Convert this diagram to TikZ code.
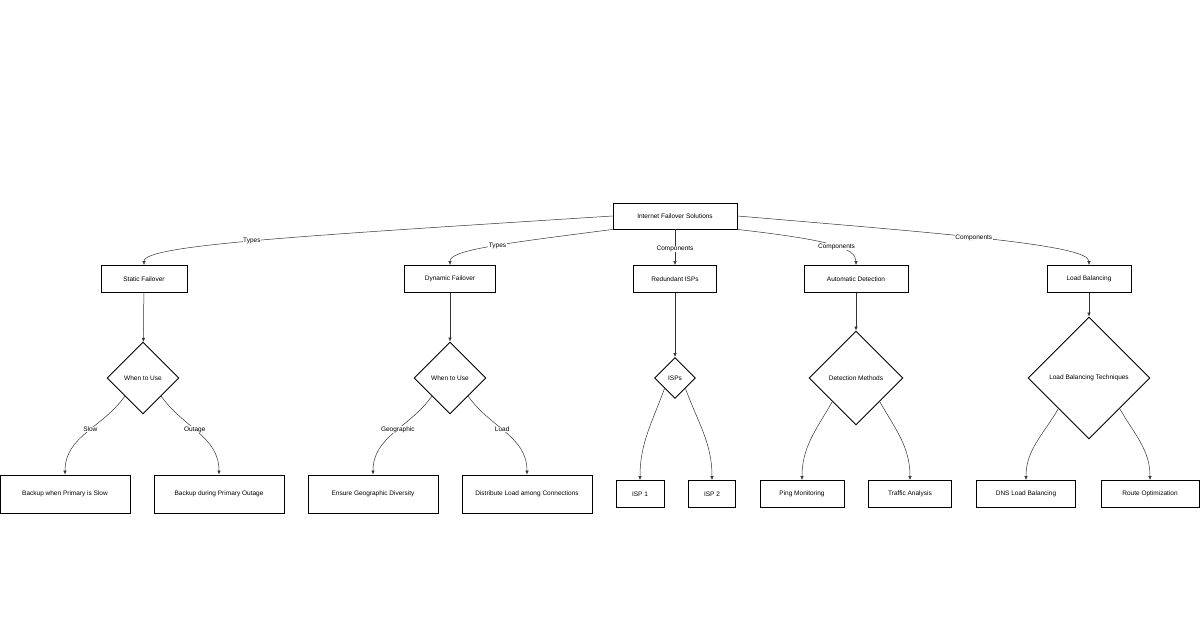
\documentclass[tikz,border=0pt]{standalone}
\usepackage{fontspec}
\setmainfont{Liberation Sans}
\usetikzlibrary{shapes.geometric, arrows.meta}

\begin{document}
\begin{tikzpicture}[x=1pt, y=-1pt, font=\fontsize{6.5}{8}\selectfont]
        \tikzset{box/.style = {draw, line width=0.9pt, inner sep=0pt, minimum height=27pt}}
        \tikzset{leaf/.style = {box, minimum height=38pt}}
        \tikzset{small/.style = {box, minimum height=27pt}}
        \tikzset{choice/.style = {draw, diamond, line width=0.9pt, inner sep=0pt, aspect=1}}
        \tikzset{link/.style = {draw=black!80, line width=0.5pt, -{Latex[length=4pt,width=3.5pt]}}}
        \tikzset{tag/.style = {fill=white, inner sep=0.5pt}}

        \useasboundingbox (0,0) rectangle (1200,628);

        \node[box, minimum width=124pt, minimum height=26pt] (root) at (675,216) {Internet Failover Solutions};

        \node[box, minimum width=86pt] (static) at (144,279) {Static Failover};
        \node[box, minimum width=91pt] (dynamic) at (450,279) {Dynamic Failover};
        \node[box, minimum width=83pt] (redundant) at (675,279) {Redundant ISPs};
        \node[box, minimum width=104pt] (detect) at (856,279) {Automatic Detection};
        \node[box, minimum width=84pt] (balance) at (1089,279) {Load Balancing};

        \node[choice, minimum width=72pt, minimum height=72pt] (swhen) at (143,378) {When to Use};
        \node[choice, minimum width=72pt, minimum height=72pt] (dwhen) at (450,378) {When to Use};
        \node[choice, minimum width=41pt, minimum height=41pt] (isps) at (675,378) {ISPs};
        \node[choice, minimum width=94pt, minimum height=94pt] (methods) at (856,378) {Detection Methods};
        \node[choice, minimum width=122pt, minimum height=122pt] (techniques) at (1089,378) {Load Balancing Techniques};

        \node[leaf, minimum width=130pt] (slow) at (65,494) {Backup when Primary is Slow};
        \node[leaf, minimum width=130pt] (outage) at (219,494) {Backup during Primary Outage};
        \node[leaf, minimum width=130pt] (geo) at (373,494) {Ensure Geographic Diversity};
        \node[leaf, minimum width=130pt] (load) at (527,494) {Distribute Load among Connections};
        \node[small, minimum width=48pt] (isp1) at (640,494) {ISP 1};
        \node[small, minimum width=47pt] (isp2) at (712,494) {ISP 2};
        \node[small, minimum width=84pt] (ping) at (802,494) {Ping Monitoring};
        \node[small, minimum width=83pt] (traffic) at (910,494) {Traffic Analysis};
        \node[small, minimum width=99pt] (dns) at (1026,494) {DNS Load Balancing};
        \node[small, minimum width=98pt] (route) at (1150,494) {Route Optimization};

        % first level
        \draw[link] (root.west) .. controls (300,236) and (144,245) .. node[tag, pos=0.52] {Types} (static.north);
        \draw[link] (root.south west) .. controls (500,244) and (450,250) .. node[tag, pos=0.45] {Types} (dynamic.north);
        \draw[link] (root) -- node[tag, pos=0.55] {Components} (redundant);
        \draw[link] (root.south east) .. controls (830,240) and (856,248) .. node[tag, pos=0.55] {Components} (detect.north);
        \draw[link] (root.east) .. controls (950,234) and (1089,245) .. node[tag, pos=0.45] {Components} (balance.north);

        % second level
        \draw[link] (static) -- (swhen);
        \draw[link] (dynamic) -- (dwhen);
        \draw[link] (redundant) -- (isps);
        \draw[link] (detect) -- (methods);
        \draw[link] (balance) -- (techniques);

        % leaves
        \draw[link] (swhen.south west) to[out=235, in=90] node[tag, pos=0.45] {Slow} (slow.north);
        \draw[link] (swhen.south east) to[out=-55, in=90] node[tag, pos=0.45] {Outage} (outage.north);
        \draw[link] (dwhen.south west) to[out=235, in=90] node[tag, pos=0.45] {Geographic} (geo.north);
        \draw[link] (dwhen.south east) to[out=-55, in=90] node[tag, pos=0.45] {Load} (load.north);
        \draw[link] (isps.south west) to[out=250, in=90] (isp1.north);
        \draw[link] (isps.south east) to[out=-70, in=90] (isp2.north);
        \draw[link] (methods.south west) to[out=240, in=90] (ping.north);
        \draw[link] (methods.south east) to[out=-60, in=90] (traffic.north);
        \draw[link] (techniques.south west) to[out=240, in=90] (dns.north);
        \draw[link] (techniques.south east) to[out=-60, in=90] (route.north);
\end{tikzpicture}
\end{document}
